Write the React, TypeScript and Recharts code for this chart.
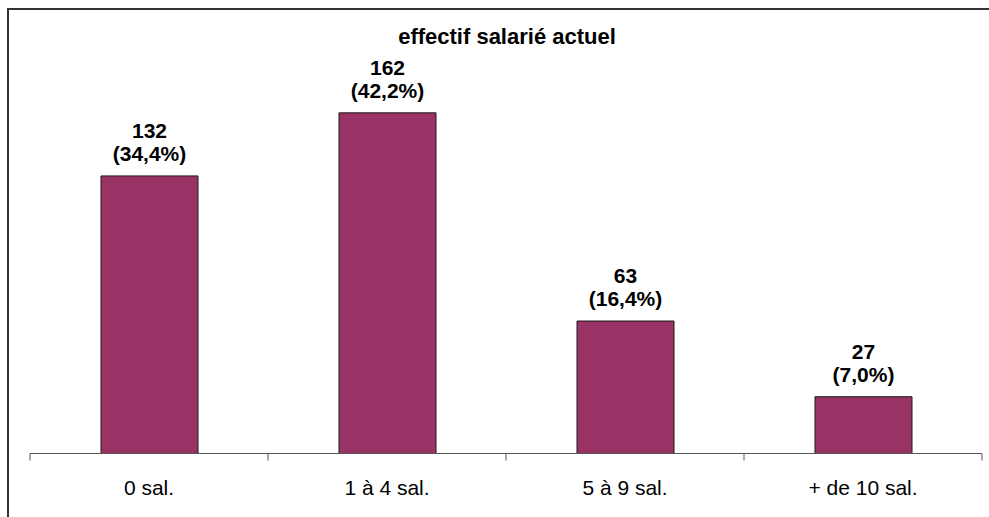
import { BarChart, Bar, XAxis, YAxis, LabelList } from "recharts";

const categories = ["0 sal.", "1 à 4 sal.", "5 à 9 sal.", "+ de 10 sal."];
const counts = [132, 162, 63, 27];
const percents = ["34,4%", "42,2%", "16,4%", "7,0%"];

const data = categories.map((cat, i) => ({ cat, count: counts[i], pct: percents[i] }));

const font = "'Liberation Sans', Arial, sans-serif";
const TICK_MARGIN = 20.5;
const TICK_SIZE = 6;

const TwoLineLabel = (props: any) => {
  const { x, y, width, index } = props;
  const cx = x + width / 2;
  return (
    <g>
      <text x={cx} y={y - 38} textAnchor="middle" fontFamily={font} fontWeight="bold" fontSize={21} fill="#000">
        {counts[index]}
      </text>
      <text x={cx} y={y - 15} textAnchor="middle" fontFamily={font} fontWeight="bold" fontSize={21} fill="#000">
        ({percents[index]})
      </text>
    </g>
  );
};

// category label plus tick marks on the band edges (Excel style)
const EdgeTick = (props: any) => {
  const { x, y, payload, index, visibleTicksCount } = props;
  const half = payload && payload.offset ? payload.offset : 119;
  const axisY = y - TICK_MARGIN - TICK_SIZE;
  const last = index === (visibleTicksCount ?? categories.length) - 1;
  return (
    <g>
      <line x1={x - half} x2={x - half} y1={axisY} y2={axisY + 7} stroke="#555" />
      {last && <line x1={x + half} x2={x + half} y1={axisY} y2={axisY + 7} stroke="#555" />}
      <text x={x} y={y} dy="0.71em" textAnchor="middle" fontFamily={font} fontSize={21} fill="#000">
        {payload.value}
      </text>
    </g>
  );
};

export default function App() {
  return (
    <div style={{ position: "absolute", left: 0, top: 0, width: 989, height: 517, overflow: "hidden", background: "#fff" }}>
      {/* outer frame, runs off the right and bottom edges */}
      <div
        style={{
          position: "absolute",
          left: 7,
          top: 8,
          width: 2000,
          height: 2000,
          borderLeft: "2px solid #333",
          borderTop: "2px solid #333",
        }}
      />
      <div
        style={{
          position: "absolute",
          left: 507,
          top: 26,
          transform: "translateX(-50%)",
          whiteSpace: "nowrap",
          fontFamily: font,
          fontWeight: "bold",
          fontSize: 22,
          lineHeight: "22px",
        }}
      >
        effectif salarié actuel
      </div>
      <div style={{ position: "absolute", left: 0, top: 0 }}>
        <BarChart width={989} height={517} data={data} margin={{ top: 75, right: 7, left: 30, bottom: 33.5 }}>
          <XAxis
            dataKey="cat"
            axisLine={{ stroke: "#555" }}
            tickLine={false}
            tickSize={TICK_SIZE}
            height={30}
            tickMargin={TICK_MARGIN}
            tick={EdgeTick}
            interval={0}
          />
          <YAxis hide domain={[0, 180]} />
          <Bar dataKey="count" fill="#993366" stroke="#1a1a1a" strokeWidth={1} barSize={97} isAnimationActive={false}>
            <LabelList dataKey="count" content={TwoLineLabel} />
          </Bar>
        </BarChart>
      </div>
    </div>
  );
}
